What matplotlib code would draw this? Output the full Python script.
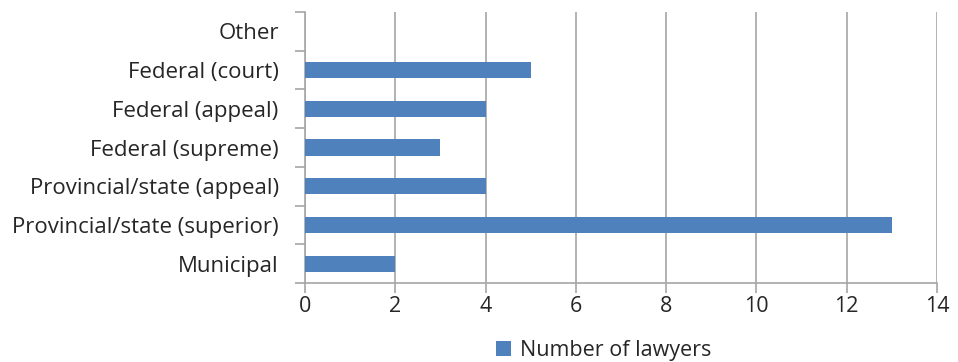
import matplotlib.pyplot as plt
import numpy as np

courts = ["Municipal", "Provincial/state (superior)", "Provincial/state (appeal)",
          "Federal (supreme)", "Federal (appeal)", "Federal (court)", "Other"]
lawyers = [2, 13, 4, 3, 4, 5, 0]

bar_color = "#4F81BD"
grid_color = "#A6A6A6"
text_color = "#262626"

plt.rcParams['font.family'] = ['Open Sans', 'DejaVu Sans']

fig = plt.figure(figsize=(9.58, 3.62), dpi=100)
ax = fig.add_axes([0.3184, 0.218, 0.6596, 0.749])

y = np.arange(len(courts))
ax.barh(y, lawyers, height=0.42, color=bar_color, label="Number of lawyers", zorder=3)

ax.set_xlim(0, 14)
ax.set_ylim(-0.5, len(courts) - 0.5)
ax.set_xticks(range(0, 15, 2))
ax.set_yticks(y)
ax.set_yticklabels(courts)
ax.set_yticks(np.arange(-0.5, len(courts)), minor=True)

ax.grid(axis='x', color=grid_color, linewidth=1.2, zorder=0)
for s in ['top', 'right']:
    ax.spines[s].set_visible(False)
for s in ['left', 'bottom']:
    ax.spines[s].set_color(grid_color)
    ax.spines[s].set_linewidth(1.2)

ax.tick_params(axis='y', which='major', length=0, pad=19, labelsize=16, labelcolor=text_color)
ax.tick_params(axis='y', which='minor', length=7, color=grid_color, width=1.2)
ax.tick_params(axis='x', length=7, color=grid_color, width=1.2, pad=2, labelsize=15.5,
               labelcolor=text_color)

fig.legend(loc='lower center', bbox_to_anchor=(0.63, -0.05), frameon=False, fontsize=15.5,
           handlelength=0.7, handleheight=0.7, handletextpad=0.4, labelcolor=text_color)

fig.savefig("out.png", dpi=100)
